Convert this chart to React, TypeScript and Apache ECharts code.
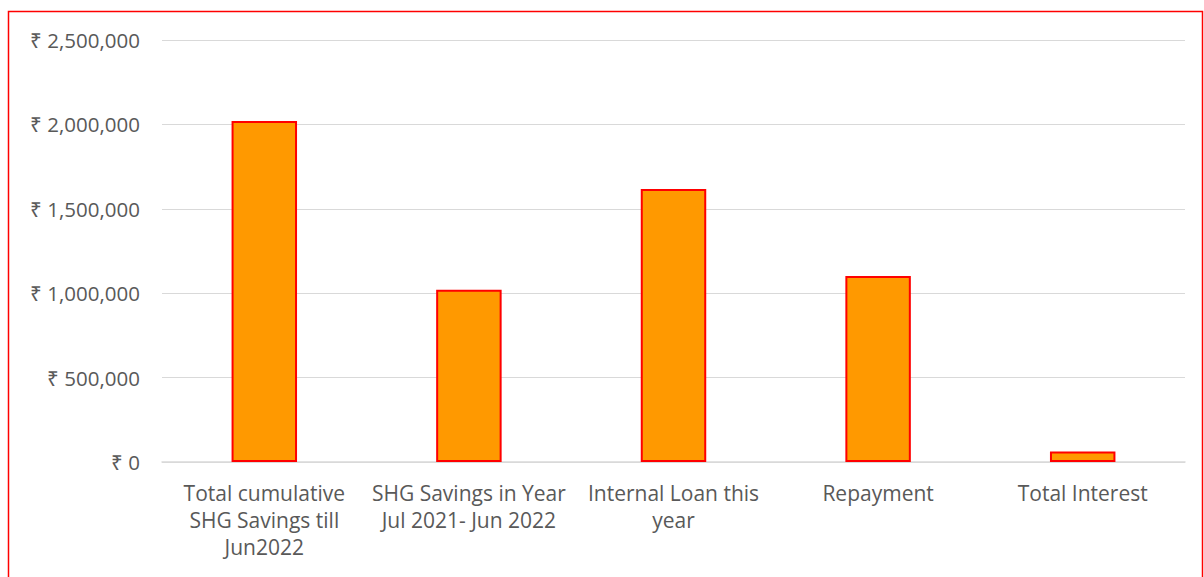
import React, { useEffect, useRef } from "react";
import * as echarts from "echarts";

const categories = [
  "Total cumulative\nSHG Savings till\nJun2022",
  "SHG Savings in Year\nJul 2021- Jun 2022",
  "Internal Loan this\nyear",
  "Repayment",
  "Total Interest",
];
const values = [2020000, 1020000, 1617000, 1102000, 62000];
const yTicks = [0, 500000, 1000000, 1500000, 2000000, 2500000];

const fmt = (v: number) => "₹ " + v.toLocaleString("en-US");

export default function App() {
  const ref = useRef<HTMLDivElement>(null);
  useEffect(() => {
    document.body.style.margin = "0";
    const chart = echarts.init(ref.current!, undefined, { renderer: "svg" });
    chart.setOption({
      animation: false,
      grid: { left: 162, right: 19, top: 40, bottom: 115, containLabel: false },
      graphic: [
        {
          type: "rect",
          shape: { x: 8.5, y: 11.5, width: 1194, height: 600 },
          style: { fill: "none", stroke: "#FF0000", lineWidth: 1.5 },
          silent: true,
        },
      ],
      xAxis: {
        type: "category",
        data: categories,
        axisLine: { show: true, lineStyle: { color: "#d9d9d9", width: 1.5 } },
        axisTick: { show: false },
        axisLabel: {
          color: "#595959",
          fontFamily: "Open Sans",
          fontSize: 21,
          lineHeight: 27,
          margin: 17,
          interval: 0,
        },
      },
      yAxis: {
        type: "value",
        min: yTicks[0],
        max: yTicks[yTicks.length - 1],
        interval: 500000,
        axisLine: { show: false },
        axisTick: { show: false },
        splitLine: { lineStyle: { color: "#d9d9d9", width: 1.2 } },
        axisLabel: {
          color: "#595959",
          fontFamily: "Open Sans",
          fontSize: 20.5,
          margin: 22,
          formatter: (v: number) => fmt(v),
        },
      },
      series: [
        {
          type: "bar",
          data: values,
          barWidth: "32%",
          itemStyle: { color: "#FF9900", borderColor: "#FF0000", borderWidth: 2 },
        },
      ],
    });
    return () => chart.dispose();
  }, []);
  return <div ref={ref} style={{ width: 1204, height: 577 }} />;
}
